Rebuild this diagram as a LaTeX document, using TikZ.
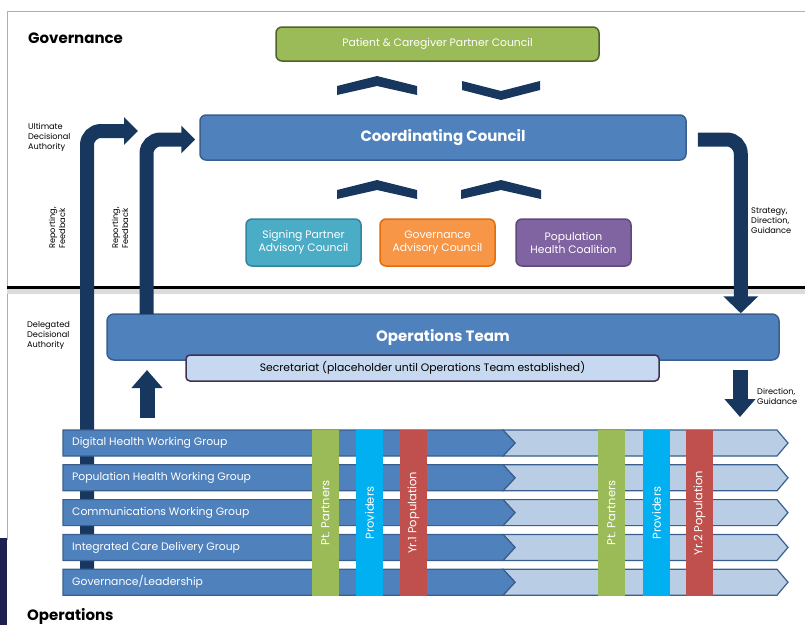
\documentclass[tikz,border=0pt]{standalone}
\usepackage{fontspec}
\setmainfont{Poppins}
\usetikzlibrary{arrows.meta,positioning,calc}

\definecolor{navy}{HTML}{17375E}
\definecolor{darknavy}{HTML}{1E2050}
\definecolor{frameblue}{HTML}{8EB4E3}
\definecolor{cblue}{HTML}{4F81BD}
\definecolor{cbluedk}{HTML}{3A5F8F}
\definecolor{rowlight}{HTML}{B9CDE5}
\definecolor{secfill}{HTML}{C6D9F1}
\definecolor{secedge}{HTML}{3F3151}
\definecolor{pgreen}{HTML}{9BBB59}
\definecolor{pgreendk}{HTML}{4F6228}
\definecolor{pteal}{HTML}{4BACC6}
\definecolor{ptealdk}{HTML}{31859C}
\definecolor{porange}{HTML}{F79646}
\definecolor{porangedk}{HTML}{E46C0A}
\definecolor{ppurple}{HTML}{8064A2}
\definecolor{ppurpledk}{HTML}{5F497A}
\definecolor{scyan}{HTML}{00B0F0}
\definecolor{sred}{HTML}{C0504D}

\begin{document}
\begin{tikzpicture}[
    x=1pt, y=-1pt,
    box/.style={
        rectangle, draw, line width=1.5pt, rounded corners=6pt,
        text=white, align=center, inner sep=0pt,
        font=\fontsize{10.8}{13}\selectfont
    },
    council/.style={box, fill=cblue, draw=cbluedk, font=\fontsize{15}{17}\selectfont\bfseries},
    advisory/.style={box, minimum width=115pt, minimum height=47pt},
    section/.style={font=\fontsize{15}{17}\selectfont\bfseries, inner sep=0pt},
    note/.style={align=left, inner sep=0pt, font=\fontsize{8.2}{10}\selectfont},
    wglbl/.style={anchor=west, inner sep=0pt, text=white, font=\fontsize{10.8}{12}\selectfont},
    strip/.style={
        rotate=90, minimum width=166pt, minimum height=27pt, inner sep=0pt,
        text=white, font=\fontsize{11.5}{13}\selectfont
    },
    bigarrow/.style={navy, line width=14pt, rounded corners=14pt,
        -{Triangle[length=14pt,width=27pt]}},
    stubarrow/.style={navy, line width=15pt, -{Triangle[length=18pt,width=30pt]}}
]
    \useasboundingbox (0,0) rectangle (805,625);

    % Frame and divider
    \draw[frameblue, line width=1pt] (7,540) -- (7,11) -- (805,11);
    \fill[darknavy] (0,538) rectangle (6.5,625);
    \fill[black!14] (7,289) rectangle (805,294);
    \draw[black, line width=2.2pt] (7,287.5) -- (805,287.5);

    \node[section, anchor=west] (govtitle) at (28,38) {Governance};
    \node[section, anchor=west] (opstitle) at (27,616) {Operations};

    % Governance boxes
    \node[box, fill=pgreen, draw=pgreendk, minimum width=323pt, minimum height=34pt] (pcpc) at (437.5,44) {Patient \& Caregiver Partner Council};
    \node[council, minimum width=486pt, minimum height=45pt] (cc) at (443,137.5) {Coordinating Council};
    \node[advisory, fill=pteal, draw=ptealdk] (spac) at (303.5,242.5) {Signing Partner\\Advisory Council};
    \node[advisory, fill=porange, draw=porangedk] (gac) at (437.5,242.5) {Governance\\Advisory Council};
    \node[advisory, fill=ppurple, draw=ppurpledk] (phc) at (573.5,242.5) {Population\\Health Coalition};

    % Chevrons between the councils
    \fill[navy] (337,86) -- (377,76) -- (417,86) -- (417,95) -- (377,86) -- (337,95) -- cycle;
    \fill[navy] (462,81) -- (501,91) -- (540,81) -- (540,90) -- (501,100) -- (462,90) -- cycle;
    \foreach \cx in {377,501}
        \fill[navy] (\cx-40,190) -- (\cx,180) -- (\cx+40,190) -- (\cx+40,199) -- (\cx,190) -- (\cx-40,199) -- cycle;

    % Operations team
    \node[council, rounded corners=7pt, minimum width=672pt, minimum height=46pt] (ops) at (443,337) {Operations Team};
    \node[box, fill=secfill, draw=secedge, text=black, rounded corners=4pt, minimum width=473pt, minimum height=26pt] (sec) at (422.5,368) {Secretariat (placeholder until Operations Team established)};

    % Reporting arrows on the left
    \coordinate (rep1) at (87,590);
    \coordinate (uda) at (138,131);
    \draw[bigarrow] (rep1) |- (uda);
    \draw[bigarrow] (146.5,314) |- ([xshift=-4pt,yshift=-2pt]cc.west);

    % Strategy arrow on the right
    \draw[bigarrow, -{Triangle[length=17pt,width=34pt]}] ([xshift=11pt,yshift=-2pt]cc.east) -| ([xshift=-39pt]ops.north east);

    % Short arrows between team and groups
    \coordinate (upfoot) at (147,418);
    \coordinate (uptip) at (147,370);
    \draw[stubarrow] (upfoot) -- (uptip);
    \coordinate (dntop) at (740,370);
    \coordinate (dnfoot) at (740,417);
    \draw[stubarrow] (dntop) -- (dnfoot);

    % Side notes
    \node[note, anchor=north west] (ultimate) at (28,123) {Ultimate\\Decisional\\Authority};
    \node[note, anchor=north west] (delegated) at (27,321) {Delegated\\Decisional\\Authority};
    \node[note, rotate=90] (rf1) at (57,228) {Reporting,\\Feedback};
    \node[note, rotate=90] (rf2) at (120,228) {Reporting,\\Feedback};
    \node[note, anchor=north west] (strategy) at (751,208) {Strategy,\\Direction,\\Guidance};
    \node[note, anchor=north west] (direction) at (757,388) {Direction,\\Guidance};

    % Working groups
    \foreach \i/\t in {0/Digital Health Working Group, 1/Population Health Working Group,
        2/Communications Working Group, 3/Integrated Care Delivery Group, 4/{Governance/Leadership}} {
        \pgfmathsetmacro\yc{443+34.8*\i}
        \filldraw[fill=rowlight, draw=cbluedk, line width=1.2pt]
            (503,\yc-13) -- (777,\yc-13) -- (788,\yc) -- (777,\yc+13) -- (503,\yc+13) -- (515,\yc) -- cycle;
        \filldraw[fill=cblue, draw=cbluedk, line width=1.2pt]
            (63,\yc-13) -- (503,\yc-13) -- (515,\yc) -- (503,\yc+13) -- (63,\yc+13) -- cycle;
        \node[wglbl] (wg\i) at (72,\yc) {\t};
    }

    % Stakeholder strips across the groups
    \foreach \x/\c/\t [count=\k] in {325.5/pgreen/Pt. Partners, 369.5/scyan/Providers, 413.5/sred/Yr.1 Population,
        611.5/pgreen/Pt. Partners, 656.5/scyan/Providers, 699.5/sred/Yr.2 Population}
        \node[strip, fill=\c] (strip\k) at (\x,513) {\t};

\end{tikzpicture}
\end{document}
